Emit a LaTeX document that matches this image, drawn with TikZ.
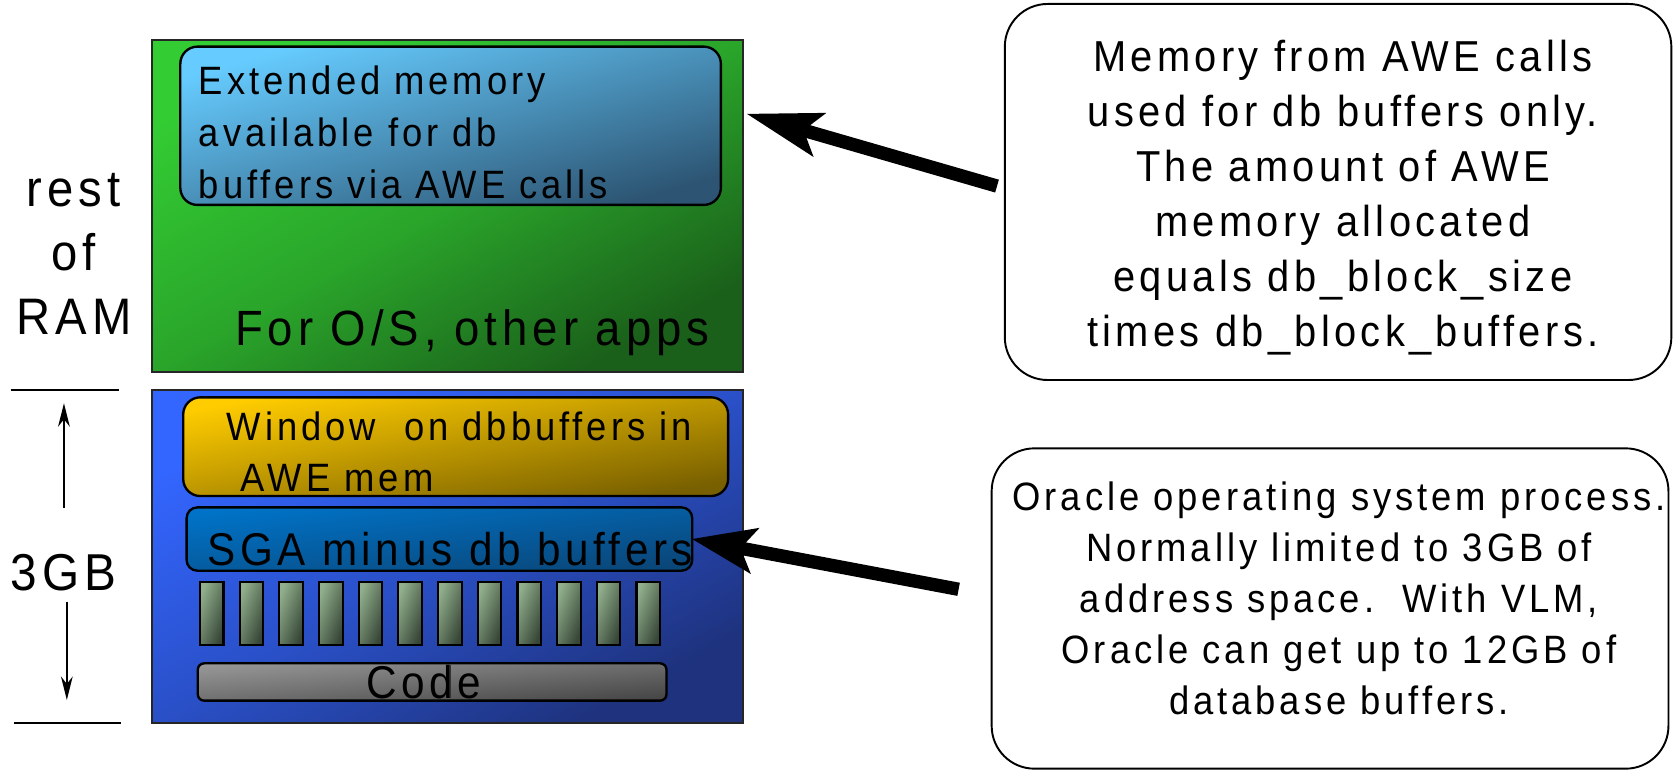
\documentclass[tikz,border=0pt]{standalone}
\usepackage{fontspec}
\setmainfont[FakeStretch=0.92,LetterSpace=10]{Liberation Sans}
\usetikzlibrary{arrows.meta,calc}

\definecolor{greenA}{RGB}{51,204,51}
\definecolor{greenM}{RGB}{42,165,42}
\definecolor{greenB}{RGB}{26,95,26}
\definecolor{skyA}{RGB}{102,204,255}
\definecolor{skyB}{RGB}{45,85,115}
\definecolor{blueA}{RGB}{51,102,255}
\definecolor{blueM}{RGB}{42,80,200}
\definecolor{blueB}{RGB}{30,50,125}
\definecolor{goldA}{RGB}{255,204,0}
\definecolor{goldB}{RGB}{120,95,0}
\definecolor{sgaA}{RGB}{0,115,200}
\definecolor{sgaB}{RGB}{10,70,120}
\definecolor{barA}{RGB}{145,175,140}
\definecolor{barB}{RGB}{55,70,55}
\definecolor{codeA}{RGB}{150,150,150}
\definecolor{codeB}{RGB}{70,70,70}

\newcommand\fs[2]{\fontsize{#1}{#2}\selectfont}

\begin{document}
\begin{tikzpicture}[x=1pt,y=-1pt,
  every node/.style={inner sep=0pt, outer sep=0pt},
  % diagonal fill from the upper left corner to the lower right one
  grad/.style n args={3}{top color=#1, bottom color=#2, shading angle=#3},
  panel/.style={draw=black!85, line width=2pt, anchor=north west},
  rbox/.style={draw=black, line width=2.2pt, rounded corners=16pt, anchor=north west},
  bar/.style={draw=black, line width=2pt, grad={barA}{barB}{69}, anchor=north west,
    minimum width=22pt, minimum height=59pt},
  note/.style={draw=black, line width=1.8pt, rounded corners=40pt, fill=white, anchor=north west},
  rule/.style={line width=1.6pt},
  dimarrow/.style={line width=1.6pt, -{Stealth[length=22pt, width=11pt, inset=7pt]}},
  bigarrow/.style={line width=12.5pt, draw=black}
]
\useasboundingbox (0,0) rectangle (1568,720);

% upper part of memory: rest of RAM
\node[panel, grad={greenA}{greenB}{29}, middle color=greenM, minimum width=552.5pt, minimum height=310pt] (upper) at (142,37.5) {};
\node[rbox, grad={skyA}{skyB}{16}, minimum width=505.4pt, minimum height=148pt] (ext) at (168.6,43.6) {};
% multi-line texts are placed by the baseline of their last line
\node[anchor=base west, align=left, font=\fs{37}{48.3}] (exttext) at (186,185.4)
  {Extended memory\\available for db\\buffers via AWE calls};
\node[anchor=base west, font=\fs{46.3}{54}] (ostext) at (219.8,322.6) {For O/S, other apps};

% lower part of memory: the 3GB process address space
\node[panel, grad={blueA}{blueB}{29}, middle color=blueM, minimum width=552.5pt, minimum height=311.6pt] (lower) at (142,364.7) {};
\node[rbox, grad={goldA}{goldB}{10}, minimum width=509.5pt, minimum height=92.3pt] (window) at (171.3,371.5) {};
\node[anchor=base west, align=left, font=\fs{37}{46.8}] (wintext) at (212,459.1)
  {Window\ \ on dbbuffers in\\\hspace*{13.3pt}AWE mem};
\node[rbox, rounded corners=10pt, grad={sgaA}{sgaB}{7}, minimum width=472.7pt, minimum height=59.2pt] (sga) at (174.5,474.4) {};
\node[anchor=base west, font=\fs{42.9}{50}] (sgatext) at (194,528.3) {SGA\ minus db buffers};
\foreach \i in {0,...,11}
  \node[bar] (bar\i) at ({187+37.1*\i},544) {};
\node[rbox, rounded corners=6pt, grad={codeA}{codeB}{5}, minimum width=438.3pt, minimum height=34.9pt] (code) at (184.9,620.2) {};
\draw[line width=1.2pt, black!80] (421.5,621.8) -- (421.5,653);
\node[anchor=base, font=\fs{43}{50}] (codetext) at (396,653) {Code};

% labels and size markers on the left
\node[anchor=base, align=center, font=\fs{48}{60}] (ramtext) at (69,313.2) {rest\\of\\RAM};
\node[anchor=base, font=\fs{48.5}{56}] (gbtext) at (59.4,551.7) {3GB};
\coordinate (ruleTa) at (10,364.7);
\coordinate (ruleTb) at (111,364.7);
\coordinate (ruleBa) at (12.7,676.3);
\coordinate (ruleBb) at (113,676.3);
\draw[rule] (ruleTa) -- (ruleTb);
\draw[rule] (ruleBa) -- (ruleBb);
\coordinate (upA) at (59.8,474.7);
\coordinate (upB) at (59.8,377);
\coordinate (dnA) at (62.5,562.6);
\coordinate (dnB) at (62.5,654.5);
\draw[dimarrow] (upA) -- (upB);
\draw[dimarrow] (dnA) -- (dnB);

% explanatory callouts
\node[note, minimum width=623.2pt, minimum height=351.6pt] (note1) at (939.5,3.7) {};
\node[anchor=base, align=center, font=\fs{40.5}{51.4}] (note1text) at (1255.6,324)
  {Memory from AWE calls\\used for db buffers only.\\The amount of AWE\\memory allocated\\equals db\_block\_size\\times db\_block\_buffers.};
\node[note, minimum width=632.8pt, minimum height=299.5pt] (note2) at (927.2,419.2) {};
\node[anchor=base, align=center, font=\fs{37}{47.9}] (note2text) at (1252,668.5)
  {Oracle operating system process.\\Normally limited to 3GB of\\address space.\ \ With VLM,\\Oracle can get up to 12GB of\\database buffers.};

% thick pointers from the callouts
\coordinate (tail1) at (932.2,174);
\coordinate (tip1) at (698.5,106.5);
\coordinate (tail2) at (896.3,551);
\draw[bigarrow, -{Stealth[length=71pt, width=43pt, inset=16pt, line width=0pt]}] (tail1) -- (tip1);
\draw[bigarrow, -{Stealth[length=60pt, width=44pt, inset=14pt, line width=0pt]}] (tail2) -- (sga.east);
\end{tikzpicture}
\end{document}
